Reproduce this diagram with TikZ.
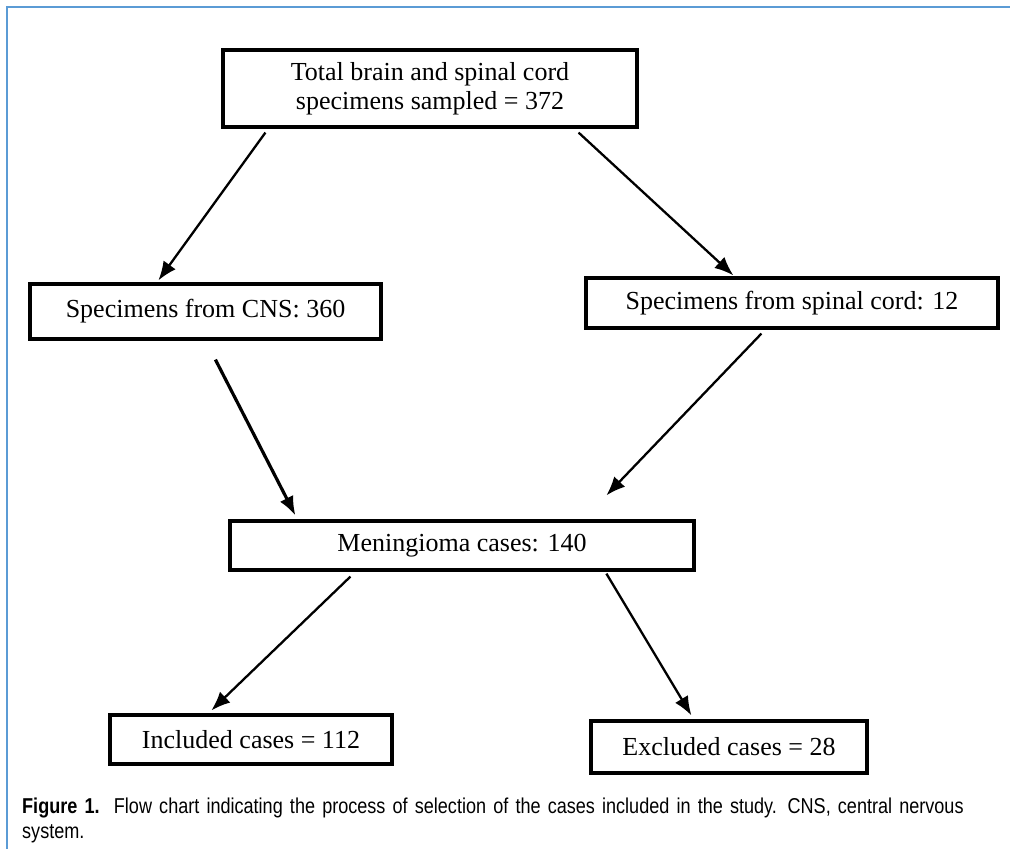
\documentclass[tikz,border=0pt]{standalone}
\usepackage{fontspec}
\setmainfont{Liberation Serif}
\newfontfamily\capfont[FakeStretch=0.84]{Liberation Sans}
\usetikzlibrary{arrows.meta,calc}
\definecolor{framecolor}{rgb}{0.357, 0.608, 0.835}

\begin{document}
\begin{tikzpicture}[x=1pt,y=-1pt,
  flowbox/.style={draw=black,line width=3.2pt,fill=white,inner sep=0pt,align=center,
    font=\fontsize{26}{29}\selectfont},
  flowarrow/.style={draw=black,line width=2.3pt,-{Latex[length=19pt,width=15pt]}}]
\useasboundingbox (0,0) rectangle (1010,849);
% frame on top and left only
\draw[framecolor,line width=2.6pt] (7,849)--(7,7)--(1010,7);
% boxes
\node[flowbox,minimum width=414pt,minimum height=77pt] (total) at (430,88.5)
  {Total brain and spinal cord\\specimens sampled = 372};
\node[flowbox,minimum width=351pt,minimum height=55pt] (cns) at (205.5,311.5)
  {Specimens from CNS: 360};
\node[flowbox,minimum width=412pt,minimum height=50pt] (spinal) at (792,303)
  {Specimens from spinal cord: 12};
\node[flowbox,minimum width=464pt,minimum height=49pt] (mening) at (462,545.5)
  {Meningioma cases: 140};
\node[flowbox,minimum width=282pt,minimum height=49pt] (incl) at (251,739.5)
  {Included cases = 112};
\node[flowbox,minimum width=276pt,minimum height=52pt] (excl) at (729,747)
  {Excluded cases = 28};
% connectors
\draw[flowarrow] ([xshift=44pt,yshift=-4pt]total.south west)--([xshift=130pt,yshift=2pt]cns.north west);
\draw[flowarrow] ([xshift=-60pt,yshift=-4pt]total.south east)--([xshift=149pt,yshift=1pt]spinal.north west);
\draw[flowarrow,line width=3.2pt] ([xshift=187pt,yshift=-19pt]cns.south west)--([xshift=67pt,yshift=4pt]mening.north west);
\draw[flowarrow] ([xshift=177pt,yshift=-4pt]spinal.south west)--([xshift=378pt,yshift=24pt]mening.north west);
\draw[flowarrow] ([xshift=122pt,yshift=-5pt]mening.south west)--([xshift=103pt,yshift=3pt]incl.north west);
\draw[flowarrow] ([xshift=378pt,yshift=-2pt]mening.south west)--([xshift=102pt,yshift=4pt]excl.north west);
% caption
\node[anchor=north west,inner sep=0pt,text width=975pt,align=left,
  font=\capfont\fontsize{21.5}{25}\selectfont] (caption) at (22,798)
  {\textbf{Figure 1.}\ \ Flow chart indicating the process of selection of the cases included in the study. CNS, central nervous system.};
\end{tikzpicture}
\end{document}
